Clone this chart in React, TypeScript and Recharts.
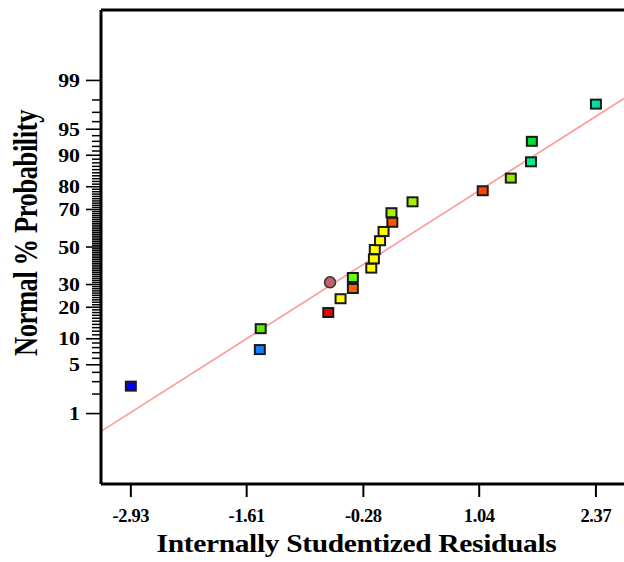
import { ComposedChart, Scatter, XAxis, YAxis, ReferenceLine, Label } from "recharts"

// internally studentized residuals
const residuals = [
  -2.93, -1.46, -1.45, -0.68, -0.54, -0.4, -0.66, -0.4, -0.19, -0.16, -0.15,
  -0.09, -0.05, 0.05, 0.04, 0.28, 1.08, 1.4, 1.63, 1.64, 2.37,
]
// normal % probability of each run
const probabilities = [
  2.6, 7.6, 12.7, 18.0, 23.5, 28.1, 31.1, 33.5, 38.4, 43.4, 48.6,
  53.5, 58.6, 63.5, 68.4, 73.6, 78.4, 83.2, 88.3, 93.0, 97.7,
]
const pointColors = [
  "#0000ff", "#1a7cff", "#5cf000", "#f00000", "#ffff00", "#ff6000", "#c0606a",
  "#66ff10", "#ffff00", "#ffff00", "#ffff00", "#ffff00", "#ffff00", "#ff5000",
  "#a8f000", "#a0f000", "#ff4400", "#99e800", "#00ee88", "#00dd33", "#00e0a0",
]
const pointShapes = [
  "square", "square", "square", "square", "square", "square", "circle",
  "square", "square", "square", "square", "square", "square", "square",
  "square", "square", "square", "square", "square", "square", "square",
]

const xTicks = [-2.93, -1.61, -0.28, 1.04, 2.37]
const majorPercents = [1, 5, 10, 20, 30, 50, 70, 80, 90, 95, 99]

// fitted normal line, ends at the plot edges
const lineResiduals = [-3.27, 2.69]
const lineProbabilities = [0.5, 98.1]

const X_DOMAIN: [number, number] = [-3.27, 2.69]
const Z_MAX = 3.31
const FONT = "'Liberation Serif', 'Times New Roman', serif"

// inverse normal cdf (Acklam)
function probit(p: number) {
  const a = [-39.69683028665376, 220.9460984245205, -275.9285104469687, 138.357751867269, -30.66479806614716, 2.506628277459239]
  const b = [-54.47609879822406, 161.5858368580409, -155.6989798598866, 66.80131188771972, -13.28068155288572]
  const c = [-0.007784894002430293, -0.3223964580411365, -2.400758277161838, -2.549732539343734, 4.374664141464968, 2.938163982698783]
  const d = [0.007784695709041462, 0.3224671290700398, 2.445134137142996, 3.754408661907416]
  const pl = 0.02425
  if (p < pl) {
    const q = Math.sqrt(-2 * Math.log(p))
    return (((((c[0] * q + c[1]) * q + c[2]) * q + c[3]) * q + c[4]) * q + c[5]) / ((((d[0] * q + d[1]) * q + d[2]) * q + d[3]) * q + 1)
  }
  if (p > 1 - pl) {
    const q = Math.sqrt(-2 * Math.log(1 - p))
    return -(((((c[0] * q + c[1]) * q + c[2]) * q + c[3]) * q + c[4]) * q + c[5]) / ((((d[0] * q + d[1]) * q + d[2]) * q + d[3]) * q + 1)
  }
  const q = p - 0.5
  const r = q * q
  return ((((((a[0] * r + a[1]) * r + a[2]) * r + a[3]) * r + a[4]) * r + a[5]) * q) / (((((b[0] * r + b[1]) * r + b[2]) * r + b[3]) * r + b[4]) * r + 1)
}

const points = residuals.map((x, i) => ({
  x,
  z: probit(probabilities[i] / 100),
  color: pointColors[i],
  shape: pointShapes[i],
}))

// whole-percent ticks, long and labelled for the majors
const tickPercents: number[] = []
for (let p = 1; p <= 99; p++) tickPercents.push(p)
const tickZ = tickPercents.map((p) => probit(p / 100))

const linePoints = lineResiduals.map((x, i) => ({ x, y: probit(lineProbabilities[i] / 100) }))

function PointShape(props: any) {
  const { cx, cy, payload } = props
  if (payload.shape === "circle") {
    return <circle cx={cx} cy={cy} r={5.5} fill={payload.color} stroke="#333" strokeWidth={1.5} />
  }
  return (
    <rect x={cx - 5} y={cy - 4.5} width={10} height={9} fill={payload.color} stroke="#1a1a1a" strokeWidth={2} />
  )
}

function YTick(props: any) {
  const { x, y, index } = props
  const p = tickPercents[index]
  const major = majorPercents.includes(p)
  return (
    <g>
      <path d={`M${x - (major ? 15 : 9)},${y}H${x}`} stroke="#000" strokeWidth={major ? 1.6 : 1.5} fill="none" />
      {major && (
        <text
          transform={`translate(${x - 21}, ${y + 6.5}) scale(1.15, 1)`}
          textAnchor="end"
          fontFamily={FONT}
          fontWeight="bold"
          fontSize={19}
          fill="#000"
        >
          {p}
        </text>
      )}
    </g>
  )
}

export default function App() {
  return (
    <div style={{ position: "absolute", left: 0, top: 0, width: 624, height: 562, background: "#fff", overflow: "hidden" }}>
      <ComposedChart width={624} height={562} margin={{ top: 10, right: 0, bottom: 0, left: 0 }}>
        <XAxis
          type="number"
          dataKey="x"
          domain={X_DOMAIN}
          allowDataOverflow
          ticks={xTicks}
          interval={0}
          height={78}
          tickSize={13}
          tickMargin={12}
          tickFormatter={(v: number) => v.toFixed(2)}
          axisLine={{ stroke: "#000", strokeWidth: 3 }}
          tickLine={{ stroke: "#000", strokeWidth: 2 }}
          tick={{ fill: "#000", fontSize: 18.5, fontWeight: "bold", fontFamily: FONT, letterSpacing: -0.4 }}
        >
          <Label
            content={(lp: any) => {
              const vb = lp.viewBox
              const cx = vb.x + vb.width / 2 - 6
              return (
                <text
                  transform={`translate(${cx}, ${vb.y + 68}) scale(1.18, 1)`}
                  textAnchor="middle"
                  fontFamily={FONT}
                  fontWeight="bold"
                  fontSize={25}
                  letterSpacing={-0.3}
                  fill="#000"
                >
                  Internally Studentized Residuals
                </text>
              )
            }}
          />
        </XAxis>
        <YAxis
          type="number"
          dataKey="z"
          domain={[-Z_MAX, Z_MAX]}
          allowDataOverflow
          ticks={tickZ}
          interval={0}
          width={101}
          tickSize={0}
          tickMargin={0}
          tickLine={false}
          axisLine={{ stroke: "#000", strokeWidth: 3 }}
          tick={<YTick />}
        >
          <Label
            content={(lp: any) => {
              const vb = lp.viewBox
              const cy = vb.y + vb.height / 2 - 14
              return (
                <text
                  transform={`translate(37, ${cy}) scale(1.3, 1) rotate(-90)`}
                  textAnchor="middle"
                  fontFamily={FONT}
                  fontWeight="bold"
                  fontSize={26.5}
                  letterSpacing={-0.4}
                  fill="#000"
                >
                  Normal % Probability
                </text>
              )
            }}
          />
        </YAxis>
        <ReferenceLine y={Z_MAX} stroke="#000" strokeWidth={3} />
        <ReferenceLine
          segment={[
            { x: linePoints[0].x, y: linePoints[0].y },
            { x: linePoints[1].x, y: linePoints[1].y },
          ]}
          stroke="#ff9a9a"
          strokeWidth={1.6}
        />
        <Scatter data={points} dataKey="z" shape={<PointShape />} isAnimationActive={false} />
      </ComposedChart>
    </div>
  )
}
